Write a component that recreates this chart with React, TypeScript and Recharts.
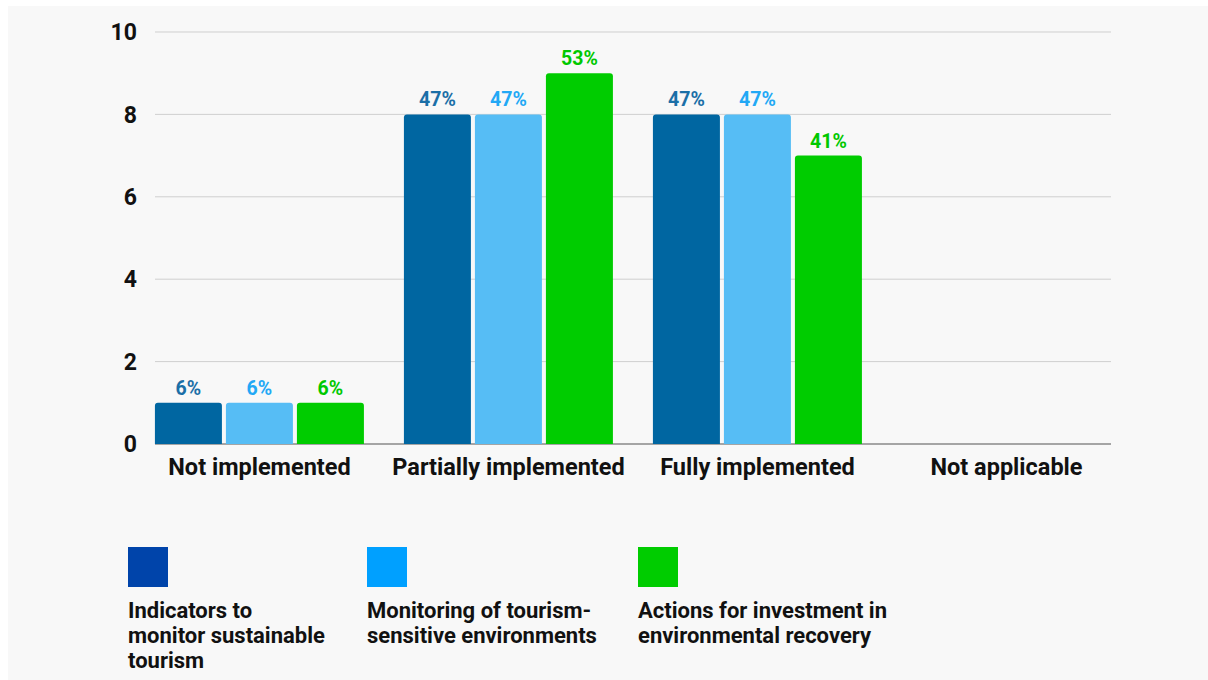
import { Bar, BarChart, CartesianGrid, LabelList, XAxis, YAxis } from "recharts";

const categories = ["Not implemented", "Partially implemented", "Fully implemented", "Not applicable"];
const indicators = [1, 8, 8, 0];
const monitoring = [1, 8, 8, 0];
const actions = [1, 9, 7, 0];
const indicatorsPct = ["6%", "47%", "47%", ""];
const monitoringPct = ["6%", "47%", "47%", ""];
const actionsPct = ["6%", "53%", "41%", ""];
const yTicks = [0, 2, 4, 6, 8, 10];

const series = [
  { key: "indicators", name: "Indicators to\nmonitor sustainable\ntourism", bar: "#0066a1", label: "#1b6fa7", legend: "#0044aa" },
  { key: "monitoring", name: "Monitoring of tourism-\nsensitive environments", bar: "#56bdf5", label: "#22a8f5", legend: "#00a0ff" },
  { key: "actions", name: "Actions for investment in\nenvironmental recovery", bar: "#00cc00", label: "#00c800", legend: "#00cc00" },
];

const data = categories.map((name, i) => ({
  name,
  indicators: indicators[i],
  monitoring: monitoring[i],
  actions: actions[i],
  indicatorsPct: indicatorsPct[i],
  monitoringPct: monitoringPct[i],
  actionsPct: actionsPct[i],
}));

const FONT = "Roboto, 'Noto Sans', sans-serif";

// grid lines are inset from the plot edges like in the original
const gridLine = (props: any) => (
  <line
    key={props.key ?? props.index}
    x1={props.x1 + 20}
    x2={props.x2 - 20}
    y1={props.y1}
    y2={props.y2}
    stroke={props.index === 0 ? "#8a8a8a" : "#cfcfcf"}
    strokeWidth={props.index === 0 ? 1.5 : 1}
  />
);

export default function App() {
  return (
    <div style={{ position: "absolute", left: 8, top: 6, width: 1200, height: 674, background: "#f8f8f8", fontFamily: FONT, overflow: "hidden" }}>
      <BarChart
        width={1200}
        height={480}
        data={data}
        margin={{ top: 26, right: 77, bottom: 0, left: 0 }}
        barCategoryGap="8%"
        barGap={4}
      >
        <CartesianGrid vertical={false} horizontal={gridLine} />
        <XAxis
          dataKey="name"
          axisLine={false}
          tickLine={false}
          tickSize={0}
          tickMargin={14}
          height={42}
          tick={{ fill: "#111", fontSize: 23.5, fontWeight: 700, fontFamily: FONT }}
          interval={0}
        />
        <YAxis
          domain={[0, 10]}
          ticks={yTicks}
          width={127}
          axisLine={false}
          tickLine={false}
          tickSize={0}
          tickMargin={-2}
          tick={{ fill: "#111", fontSize: 23, fontWeight: 700, fontFamily: FONT }}
        />
        {series.map((s) => (
          <Bar key={s.key} dataKey={s.key} fill={s.bar} radius={[3, 3, 0, 0]} isAnimationActive={false}>
            <LabelList
              dataKey={`${s.key}Pct`}
              position="top"
              offset={8}
              style={{ fill: s.label, fontSize: 19.5, fontWeight: 700, fontFamily: FONT }}
            />
          </Bar>
        ))}
      </BarChart>
      {series.map((s, i) => (
        <div key={s.key} style={{ position: "absolute", left: [120, 359, 630][i], top: 541 }}>
          <div style={{ width: 40, height: 40, background: s.legend }} />
          <div style={{ marginTop: 11, fontSize: 22, fontWeight: 700, lineHeight: "25px", color: "#111", whiteSpace: "pre" }}>
            {s.name}
          </div>
        </div>
      ))}
    </div>
  );
}
